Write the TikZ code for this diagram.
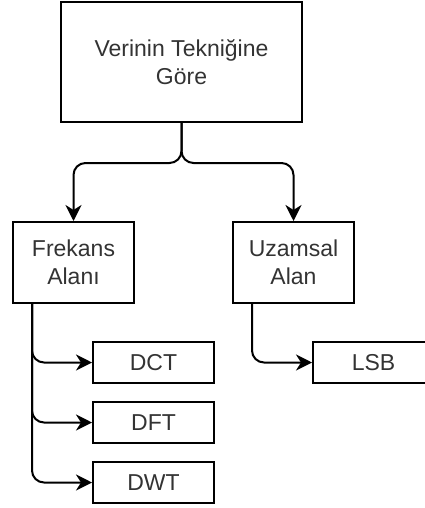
\documentclass[tikz,border=0pt]{standalone}
\usepackage{fontspec}
\setmainfont{Liberation Sans}
\usepackage{tikz}
\usetikzlibrary{arrows.meta}
\usetikzlibrary{positioning}
\usetikzlibrary{calc}
\tikzstyle{kutu}=[
        draw,
        rectangle,
        line width=2pt,
        inner sep=0pt,
        align=center,
        text=black!80,
        font=\fontsize{23}{28}\selectfont
]
\tikzstyle{buyuk}=[kutu,minimum width=241pt,minimum height=120pt]
\tikzstyle{orta}=[kutu,minimum width=121pt,minimum height=81pt]
\tikzstyle{kucuk}=[kutu,minimum width=121pt,minimum height=41pt]
\tikzstyle{suite}=[-{Stealth[length=16pt,width=16pt,inset=5pt]},line width=2pt,rounded corners=12pt]

\begin{document}
\begin{tikzpicture}[x=1pt,y=-1pt]
\clip (0,0) rectangle (425,508);
\node[buyuk] (teknik) at (181.5,62) {Verinin Tekniğine\\Göre};
\node[orta] (frekans) at (73.5,262.5) {Frekans\\Alanı};
\node[orta] (uzamsal) at (293.5,262.5) {Uzamsal\\Alan};
\node[kucuk] (dct) at (153.5,362.5) {DCT};
\node[kucuk] (dft) at (153.5,422.5) {DFT};
\node[kucuk] (dwt) at (153.5,482.5) {DWT};
\node[kucuk] (lsb) at (373.5,362.5) {LSB};
\coordinate (ayrim) at (181.5,163);
%Placementdesflèches
\draw[suite] (teknik) -- (ayrim) -| (frekans);
\draw[suite] (teknik) -- (ayrim) -| (uzamsal);

\draw[suite] ([xshift=20pt]frekans.south west) |- (dct);
\draw[suite] ([xshift=20pt]frekans.south west) |- (dft);
\draw[suite] ([xshift=20pt]frekans.south west) |- (dwt);

\draw[suite] ([xshift=20pt]uzamsal.south west) |- (lsb);

\end{tikzpicture}
\end{document}
